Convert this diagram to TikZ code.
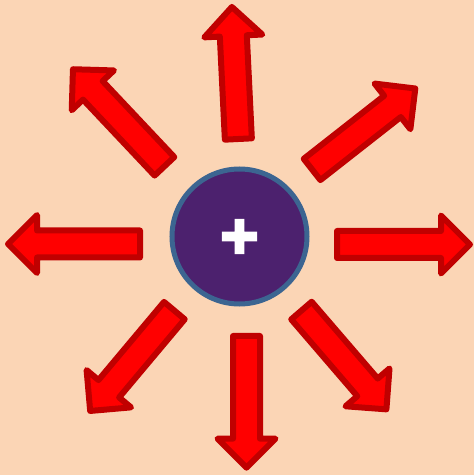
\documentclass[tikz,border=0pt]{standalone}
\usepackage{fontspec}
\newfontfamily\plusfont{DejaVu Sans}
\definecolor{bgpeach}{HTML}{FBD5B5}
\definecolor{arrowred}{HTML}{FF0000}
\definecolor{arrowedge}{HTML}{C00000}
\definecolor{chargefill}{HTML}{4C216E}
\definecolor{chargeedge}{HTML}{3C6591}
\tikzset{
  blockarrow/.style={fill=arrowred, draw=arrowedge, line width=6pt, line join=round},
  chargecircle/.style={circle, fill=chargefill, draw=chargeedge, line width=5pt, minimum size=135pt, inner sep=0pt},
}
% #1 = name, #2 = tail point, #3 = angle, #4 = outer length
\newcommand{\fieldarrow}[4]{%
  \begin{scope}[shift={#2}, rotate=#3]
    \coordinate (#1) at (0,0);
    \draw[blockarrow] (3,13.5) -- ({#4-32},13.5) -- ({#4-32},29) -- ({#4-3},0)
      -- ({#4-32},-29) -- ({#4-32},-13.5) -- (3,-13.5) -- cycle;
  \end{scope}}
\begin{document}
\begin{tikzpicture}[x=1pt, y=1pt]
  \fill[bgpeach] (0,0) rectangle (474,475);
  \useasboundingbox (0,0) rectangle (474,475);
  \node[chargecircle] (charge) at (239.5,238.5) {};
  \fieldarrow{aw}{(143,231)}{180}{138}
  \fieldarrow{ae}{(334,230.5)}{0}{139}
  \fieldarrow{an}{(238.5,333)}{92.8}{138.2}
  \fieldarrow{as}{(246.5,142)}{-90}{137.7}
  \fieldarrow{anw}{(166.5,306.5)}{133.3}{139.4}
  \fieldarrow{ane}{(309.7,303.7)}{38.1}{137.2}
  \fieldarrow{ase}{(299.5,166.7)}{-49.3}{136.3}
  \fieldarrow{asw}{(176.3,166.7)}{230}{137}
  \node[text=white, inner sep=0pt, font=\plusfont\bfseries\fontsize{50}{50}\selectfont] (plus) at (charge.center)
    {\special{pdf:literal direct 2 Tr 4 w}+\special{pdf:literal direct 0 Tr}};
\end{tikzpicture}
\end{document}
